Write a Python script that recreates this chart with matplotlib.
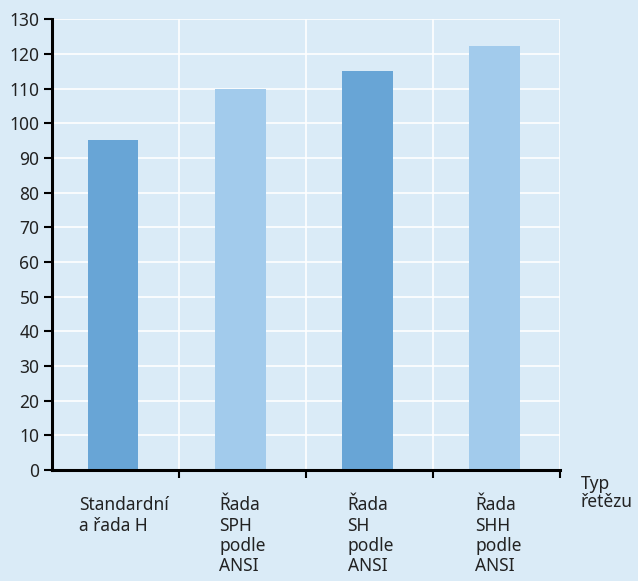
import matplotlib
matplotlib.use("Agg")
import matplotlib.pyplot as plt
import numpy as np

# data
categories = ["Standardní\na řada H", "Řada\nSPH\npodle\nANSI",
              "Řada\nSH\npodle\nANSI", "Řada\nSHH\npodle\nANSI"]
values = [95.3, 110, 115.2, 122.2]
bar_colors = ["#68a5d6", "#a2cbec", "#68a5d6", "#a2cbec"]
y_ticks = list(range(0, 131, 10))

bg = "#daebf7"
plt.rcParams['font.family'] = ['Noto Sans', 'DejaVu Sans']

fig = plt.figure(figsize=(6.38, 5.81), dpi=100, facecolor=bg)
ax = fig.add_axes([0.0815, 0.191, 0.797, 0.776], facecolor=bg)

x = np.arange(len(categories))
ax.bar(x - 0.02, values, width=0.4, color=bar_colors, zorder=3)

ax.set_xlim(-0.5, len(categories) - 0.5)
ax.set_ylim(0, 130)
ax.set_yticks(y_ticks)
ax.set_xticks(np.arange(len(categories) + 1) - 0.5)
ax.set_xticklabels([])

# grid
ax.grid(True, color="white", linewidth=1.2, zorder=1)
ax.set_axisbelow(True)

# spines
for s in ['top', 'right']:
    ax.spines[s].set_visible(False)
for s in ['left', 'bottom']:
    ax.spines[s].set_linewidth(2.2)
    ax.spines[s].set_color("black")
    ax.spines[s].set_zorder(4)

ax.tick_params(axis='y', length=6, width=1.5, pad=3, labelsize=12.5, colors="black")
ax.tick_params(axis='x', length=6, width=1.5, direction='out')
# no tick at the origin corner
ax.get_xaxis().get_major_ticks()[0].tick1line.set_visible(False)
for lbl in ax.get_yticklabels():
    lbl.set_color("#222222")

# category labels, left aligned under bars
offsets = [-0.285, -0.185, -0.175, -0.17]
for i, (cat, off) in enumerate(zip(categories, offsets)):
    ax.annotate(cat, xy=(i + off, 0), xycoords='data', xytext=(0, -19),
                textcoords='offset points', ha='left', va='top',
                fontsize=12.5, color="#222222", linespacing=1.15)

ax.text(1.04, -0.01, "Typ\nřetězu", transform=ax.transAxes, ha='left', va='top',
        fontsize=12.5, color="#222222", linespacing=1.0)

fig.savefig("out.png", dpi=100, facecolor=bg)
